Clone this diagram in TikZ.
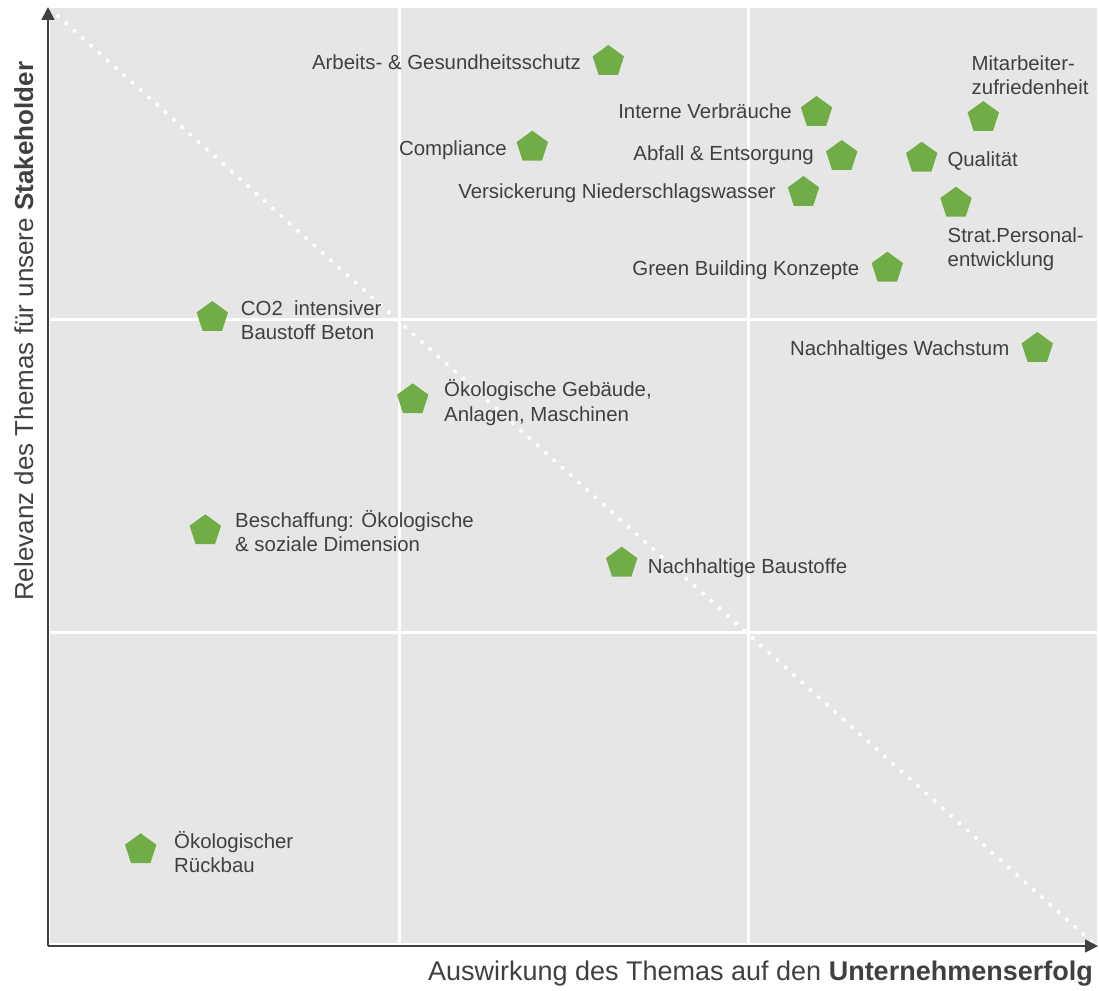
\documentclass[tikz,border=0pt]{standalone}
\usepackage{fontspec}
\setmainfont{Liberation Sans}
\usetikzlibrary{shapes.geometric,arrows.meta}
\definecolor{bg}{HTML}{E6E6E6}
\definecolor{pgreen}{HTML}{70AD47}
\definecolor{txt}{HTML}{404040}
\begin{document}
\begin{tikzpicture}[x=1pt,y=-1pt,
  pent/.style={regular polygon, regular polygon sides=5, minimum size=33pt, inner sep=0pt, fill=pgreen},
  lbl/.style={font=\fontsize{20.4}{24.3}\selectfont, text=txt, inner sep=0pt, align=left},
  axlbl/.style={font=\fontsize{26}{30}\selectfont, text=txt, inner sep=0pt},
  grid/.style={white, line width=3pt},
  axis/.style={txt, line width=1.6pt, -{Triangle[length=13pt,width=13pt]}}
  ]
\useasboundingbox (0,0) rectangle (1099,990);
\fill[bg] (50,8) rectangle (1097,943);
% grid
\draw[grid] (399,8) -- (399,943);
\draw[grid] (748,8) -- (748,943);
\draw[grid] (50,319) -- (1097,319);
\draw[grid] (50,632) -- (1097,632);
% diagonal
\coordinate (d1) at (58,16);
\coordinate (d2) at (1092,942);
\draw[white, line width=4.2pt, line cap=round, dash pattern=on 0pt off 11.1pt] (d1) -- (d2);
% axes
\coordinate (o) at (48,946);
\coordinate (ytip) at (48,7);
\coordinate (xtip) at (1098,946);
\draw[axis] (o) -- (ytip);
\draw[axis] (o) -- (xtip);
\node[axlbl, font=\fontsize{27}{30}\selectfont, anchor=base east] (xl) at (1093,980) {Auswirkung des Themas auf den \textbf{Unternehmenserfolg}};
\node[axlbl, anchor=base west, rotate=90] (yl) at (33,601) {Relevanz des Themas für unsere \textbf{Stakeholder}};
% pentagons
\node[pent] (p1) at (608.3,61.5) {};
\node[pent] (p2) at (816.5,112.5) {};
\node[pent] (p3) at (983.3,117.5) {};
\node[pent] (p4) at (532.3,147.2) {};
\node[pent] (p5) at (841.7,156.5) {};
\node[pent] (p6) at (921.7,158.2) {};
\node[pent] (p7) at (803.5,192.5) {};
\node[pent] (p8) at (956,203.2) {};
\node[pent] (p9) at (887.3,268.2) {};
\node[pent] (p10) at (212.3,317.5) {};
\node[pent] (p11) at (1037.3,348.5) {};
\node[pent] (p12) at (412.7,399.8) {};
\node[pent] (p13) at (205.3,530.8) {};
\node[pent] (p14) at (621.7,563.2) {};
\node[pent] (p15) at (140.7,849.8) {};
% labels (multi-line: base = last line)
\node[lbl, anchor=base east] (l1) at (581,69.5) {Arbeits- \& Gesundheitsschutz};
\node[lbl, anchor=base east] (l2) at (792,118.3) {Interne Verbräuche};
\node[lbl, anchor=base west] (l3) at (971.5,94.3) {Mitarbeiter-\\zufriedenheit};
\node[lbl, anchor=base east] (l4) at (507,155) {Compliance};
\node[lbl, anchor=base east] (l5) at (814,160.5) {Abfall \& Entsorgung};
\node[lbl, anchor=base west] (l6) at (947.3,166.7) {Qualität};
\node[lbl, anchor=base east] (l7) at (776,198.3) {Versickerung Niederschlagswasser};
\node[lbl, anchor=base west] (l8) at (947.5,266.6) {Strat.Personal-\\entwicklung};
\node[lbl, anchor=base east] (l9) at (859.5,275) {Green Building Konzepte};
\node[lbl, anchor=base west] (l10) at (240.7,339.3) {CO2~~intensiver\\Baustoff Beton};
\node[lbl, anchor=base east] (l11) at (1009.5,355.7) {Nachhaltiges Wachstum};
\node[lbl, anchor=base west] (l12) at (444,421) {Ökologische Gebäude,\\Anlagen, Maschinen};
\node[lbl, anchor=base west] (l13) at (235,551.7) {Beschaffung: Ökologische\\\& soziale Dimension};
\node[lbl, anchor=base west] (l14) at (647.7,573.3) {Nachhaltige Baustoffe};
\node[lbl, anchor=base west] (l15) at (174,872.7) {Ökologischer\\Rückbau};
\end{tikzpicture}
\end{document}
